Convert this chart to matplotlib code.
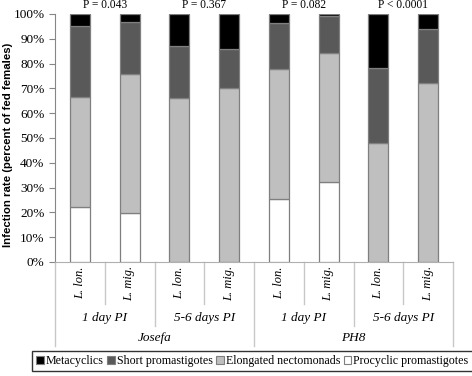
import matplotlib
matplotlib.use("Agg")
import matplotlib.pyplot as plt
from matplotlib.patches import Patch
from matplotlib.transforms import blended_transform_factory
import numpy as np

# ---- data ----
strains = ["Josefa", "PH8"]
times = ["1 day PI", "5-6 days PI"]
species = ["L. lon.", "L. mig."]
procyclic = [22.3, 19.6, 0.0, 0.0, 25.3, 32.1, 0.0, 0.0]
elongated = [44.3, 56.3, 66.3, 70.3, 52.5, 52.3, 48.1, 72.3]
short = [28.7, 20.9, 20.7, 15.7, 18.7, 14.7, 30.0, 21.7]
metacyclic = [4.7, 3.2, 13.0, 14.0, 3.5, 0.9, 21.9, 6.0]
p_values = ["P = 0.043", "P = 0.367", "P = 0.082", "P < 0.0001"]
series_names = ["Metacyclics", "Short promastigotes", "Elongated nectomonads", "Procyclic promastigotes"]

serif = "Liberation Serif"
sans = "Liberation Sans"

fig = plt.figure(figsize=(4.72, 3.76), dpi=100)
ax = fig.add_axes([55/472, (376-262)/376, (453-55)/472, 248/376])

x = np.arange(len(procyclic))
edge = "#7f7f7f"
w = 0.40
series = [procyclic, elongated, short, metacyclic]
colors = ["#ffffff", "#bfbfbf", "#595959", "#000000"]
bottom = np.zeros(len(x))
for vals, c in zip(series, colors):
    ax.bar(x, vals, w, bottom=bottom, color=c, edgecolor=edge, linewidth=0.9, zorder=3)
    bottom = bottom + np.array(vals)

ax.set_xlim(-0.5, 7.5)
ax.set_ylim(0, 100)
ax.set_yticks(np.arange(0, 101, 10))
ax.set_yticklabels([f"{v}%" for v in range(0, 101, 10)], family=serif, fontsize=9.5)
ax.set_xticks([])
ax.tick_params(axis="y", direction="out", length=4, color="#868686", pad=3.5)
for s in ["top", "right"]:
    ax.spines[s].set_visible(False)
ax.spines["left"].set_color("#868686")
ax.spines["bottom"].set_color("#b0b0b0")

ax.set_ylabel("Infection rate (percent of fed females)", family=sans, fontweight="bold",
              fontsize=8.2)
ax.yaxis.set_label_coords((13 - 55) / 398, (262 - 145) / 248)

tr = blended_transform_factory(ax.transData, ax.transAxes)
# P values
for i, p in enumerate(p_values):
    ax.text(2*i + 0.5, 1.012, p, transform=tr, ha="center", va="bottom", family=serif, fontsize=8.3)

def ay(py):
    return (262 - py) / 248

sepc = "#c8c8c8"
# level 1 labels
for i in range(8):
    ax.text(i, ay(283), species[i % 2], transform=tr, rotation=90, ha="center", va="center",
            family=serif, style="italic", fontsize=9)
for xs in [0.5, 2.5, 4.5, 6.5]:
    ax.plot([xs, xs], [0, ay(304)], transform=tr, color=sepc, lw=1, clip_on=False)
# level 2
for j in range(4):
    ax.text(2*j + 0.5, ay(318), times[j % 2], transform=tr, ha="center", va="center",
            family=serif, style="italic", fontsize=9.5)
for xs in [1.5, 5.5]:
    ax.plot([xs, xs], [0, ay(326)], transform=tr, color=sepc, lw=1, clip_on=False)
# level 3
for k in range(2):
    ax.text(4*k + 1.5, ay(338), strains[k], transform=tr, ha="center", va="center",
            family=serif, style="italic", fontsize=9.5)
for xs in [-0.5, 3.5, 7.5]:
    ax.plot([xs, xs], [0, ay(346)], transform=tr, color=sepc, lw=1, clip_on=False)

handles = [Patch(facecolor=c, edgecolor=edge, linewidth=0.8) for c in colors[::-1]]
leg = fig.legend(handles, series_names, loc="center", bbox_to_anchor=(252.5/472, (376-361)/376),
                 ncol=4, frameon=True, fancybox=False, prop={"family": serif, "size": 8.6},
                 handlelength=0.6, handleheight=0.6, handletextpad=0.2, columnspacing=0.3,
                 borderpad=0.35, borderaxespad=0)
leg.get_frame().set_edgecolor("#000000")
leg.get_frame().set_linewidth(1.0)

fig.savefig("out.png", dpi=100)
